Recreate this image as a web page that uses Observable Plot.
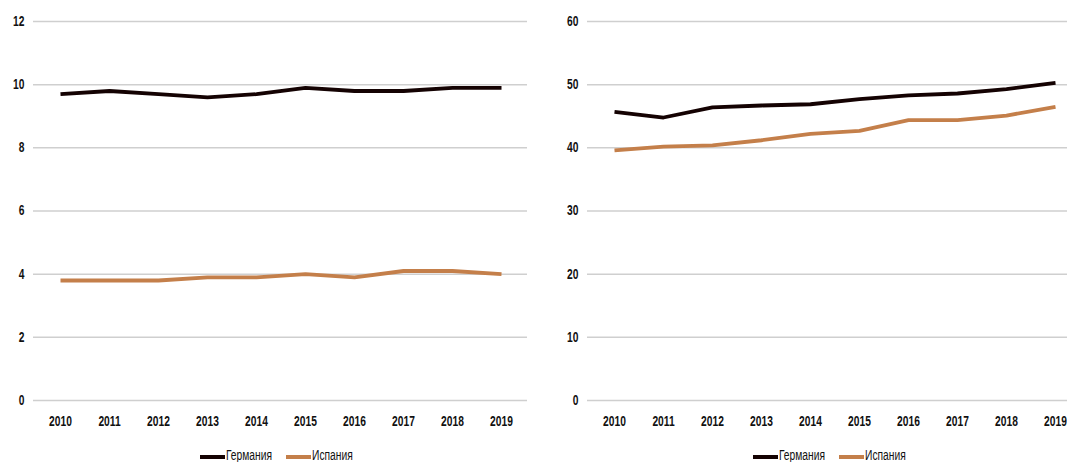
<!DOCTYPE html>
<html>
<head>
<meta charset="utf-8">
<script src="https://cdn.jsdelivr.net/npm/d3@7"></script>
<script src="https://cdn.jsdelivr.net/npm/@observablehq/plot@0.6"></script>
<style>
  body { margin: 0; background: #fff; }
  #wrap { position: relative; width: 1067px; height: 462px; overflow: hidden; }
  .panel { position: absolute; top: 0; }
  .panel svg { max-width: none !important; }
  .lg { position: absolute; font-family: "Liberation Sans Narrow", "Liberation Sans", sans-serif; font-stretch: condensed;
        font-size: 14px; color: #111; white-space: nowrap; line-height: 15px; top: 448px; transform-origin: 0 50%; }
  .sw { position: absolute; height: 4px; top: 455px; }
  svg text { font-family: "Liberation Sans Narrow", "Liberation Sans", sans-serif; font-stretch: condensed; font-weight: bold; }
</style>
</head>
<body>
<div id="wrap"></div>
<script>
const years = [2010, 2011, 2012, 2013, 2014, 2015, 2016, 2017, 2018, 2019];
const seriesNames = ["Германия", "Испания"];
const seriesColors = ["#140202", "#c47f4a"];

// Left panel
const leftGermany = [9.7, 9.8, 9.7, 9.6, 9.7, 9.9, 9.8, 9.8, 9.9, 9.9];
const leftSpain   = [3.8, 3.8, 3.8, 3.9, 3.9, 4.0, 3.9, 4.1, 4.1, 4.0];
const leftTicks = [0, 2, 4, 6, 8, 10, 12];

// Right panel
const rightGermany = [45.7, 44.8, 46.4, 46.7, 46.9, 47.7, 48.3, 48.6, 49.3, 50.3];
const rightSpain   = [39.6, 40.2, 40.4, 41.2, 42.2, 42.7, 44.4, 44.4, 45.1, 46.5];
const rightTicks = [0, 10, 20, 30, 40, 50, 60];

function toRows(g, s) {
  const rows = [];
  years.forEach((y, i) => rows.push({year: y, value: g[i], series: seriesNames[0]}));
  years.forEach((y, i) => rows.push({year: y, value: s[i], series: seriesNames[1]}));
  return rows;
}

function makeChart(rows, ticks, opts) {
  return Plot.plot({
    width: opts.width,
    height: 445,
    marginLeft: opts.marginLeft,
    marginRight: opts.marginRight,
    marginTop: 21,
    marginBottom: 45,
    style: {fontSize: "14px", color: "#111", background: "transparent"},
    x: {type: "point", domain: years, padding: 0.5, label: null},
    y: {domain: [0, ticks[ticks.length - 1]], label: null},
    color: {domain: seriesNames, range: seriesColors},
    marks: [
      Plot.ruleY(ticks, {stroke: "#cfcfcf", strokeWidth: 1.5}),
      Plot.axisX({tickSize: 0, tickPadding: 16, tickFormat: d => String(d), fill: "#111"}),
      Plot.axisY({ticks: ticks, tickSize: 0, tickPadding: 9, fill: "#111"}),
      Plot.line(rows, {x: "year", y: "value", z: "series", stroke: "series", strokeWidth: 3.8,
                       strokeLinejoin: "round", strokeLinecap: "butt"})
    ]
  });
}

const wrap = document.getElementById("wrap");

const left = makeChart(toRows(leftGermany, leftSpain), leftTicks, {width: 540, marginLeft: 33, marginRight: 13});
const lp = document.createElement("div"); lp.className = "panel"; lp.style.left = "0px"; lp.style.width = "540px"; lp.appendChild(left); wrap.appendChild(lp);

const right = makeChart(toRows(rightGermany, rightSpain), rightTicks, {width: 545, marginLeft: 47, marginRight: 3});
const rp = document.createElement("div"); rp.className = "panel"; rp.style.left = "540px"; rp.style.width = "545px"; rp.appendChild(right); wrap.appendChild(rp);

// Narrow the text horizontally to match the condensed face of the original if needed
let k = 1;
{
  const t = Array.from(left.querySelectorAll("text")).find(e => e.textContent === "2010");
  if (t) { const w = t.getBBox().width; if (w > 0) k = Math.min(1, 23 / w); }
}
[left, right].forEach(svg => {
  svg.querySelectorAll("text").forEach(t => {
    const tr = t.getAttribute("transform") || "";
    t.setAttribute("transform", tr + ` scale(${k},1)`);
  });
});

function legend(x0) {
  let x = x0;
  seriesNames.forEach((n, i) => {
    const sw = document.createElement("div"); sw.className = "sw";
    sw.style.left = x + "px"; sw.style.width = "25px"; sw.style.background = seriesColors[i];
    wrap.appendChild(sw);
    x += 26;
    const t = document.createElement("div"); t.className = "lg"; t.textContent = n;
    t.style.left = x + "px"; t.style.transform = `scaleX(${k})`;
    wrap.appendChild(t);
    x += t.getBoundingClientRect().width + 14;
  });
}
legend(200);
legend(753);
</script>
</body>
</html>
